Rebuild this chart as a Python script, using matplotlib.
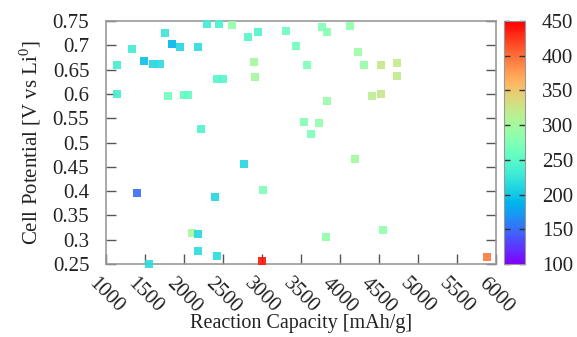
import matplotlib
matplotlib.use("Agg")
import matplotlib.pyplot as plt
import numpy as np
from matplotlib.ticker import FormatStrFormatter

plt.rcParams['font.family'] = ['Liberation Serif', 'DejaVu Serif']
plt.rcParams['mathtext.fontset'] = 'custom'
plt.rcParams['mathtext.rm'] = 'Liberation Serif'

# reaction capacity [mAh/g]
capacity = [1141, 1141, 1333, 1487, 1603, 1692, 1756, 1846, 1949, 2179,
            1795, 2000, 2051, 2423, 2500, 2218, 2295, 2449, 2615, 2821,
            2949, 2897, 2910, 3308, 3436, 3769, 3833, 4128, 4231, 3577,
            4308, 4526, 4731, 4731, 4410, 4526, 3833, 3538, 3731, 3628,
            1397, 1551, 2769, 3013, 2397, 2103, 2179, 2179, 2423, 3000,
            4192, 4551, 3821, 5885]
# cell potential [V vs Li0]
potential = [0.659, 0.600, 0.692, 0.668, 0.662, 0.662, 0.725, 0.703, 0.696, 0.696,
             0.596, 0.598, 0.598, 0.631, 0.631, 0.528, 0.744, 0.744, 0.742, 0.717,
             0.727, 0.666, 0.635, 0.729, 0.699, 0.738, 0.727, 0.740, 0.686, 0.659,
             0.659, 0.659, 0.664, 0.637, 0.596, 0.600, 0.585, 0.542, 0.540, 0.517,
             0.396, 0.250, 0.456, 0.402, 0.388, 0.314, 0.312, 0.277, 0.266, 0.256,
             0.466, 0.320, 0.306, 0.264]
# colour value
value = [235, 235, 232, 195, 210, 215, 225, 188, 210, 218,
         265, 255, 255, 245, 245, 240, 230, 238, 285, 245,
         240, 300, 300, 262, 265, 275, 278, 285, 295, 270,
         290, 325, 320, 318, 315, 325, 292, 275, 285, 272,
         150, 215, 212, 270, 212, 305, 212, 215, 215, 440,
         298, 285, 285, 395]

xticks = np.arange(1000, 6001, 500)
yticks = np.arange(0.25, 0.751, 0.05)
cticks = np.arange(100, 451, 50)

fig = plt.figure(figsize=(5.77, 3.37), dpi=100)
ax = fig.add_axes([0.1837, 0.2166, 0.6759, 0.721])
cax = fig.add_axes([0.8735, 0.2166, 0.0364, 0.721])

sc = ax.scatter(capacity, potential, c=value, cmap='rainbow', vmin=100, vmax=450,
                marker='s', s=34, linewidths=0, alpha=0.9, clip_on=False, zorder=3)

ax.set_xlim(1000, 6000)
ax.set_ylim(0.25, 0.75)
ax.set_xticks(xticks)
ax.set_yticks(yticks)
ax.yaxis.set_major_formatter(FormatStrFormatter('%g'))
ax.set_xticklabels([str(t) for t in xticks], rotation=-45, ha='center', va='top')
ax.tick_params(direction='in', length=7, width=1, color='#555555', labelsize=15,
               labelcolor='#222222', right=True, top=False)
ax.tick_params(axis='y', pad=12)
ax.tick_params(axis='x', pad=7)
for s in ax.spines.values():
    s.set_color('#999999')
    s.set_linewidth(1.2)

ax.set_xlabel('Reaction Capacity [mAh/g]', fontsize=14.5, color='#222222', labelpad=-2)
ax.set_ylabel('Cell Potential [V vs Li$^0$]', fontsize=15, color='#222222', labelpad=7)

cb = fig.colorbar(sc, cax=cax)
cb.solids.set_alpha(1)
cb.set_ticks(cticks)
cax.tick_params(direction='in', length=4, width=1, color='#333333', left=True,
                right=True, labelsize=15, labelcolor='#222222', pad=12)
cb.outline.set_edgecolor('#999999')

fig.savefig('out.png', dpi=100)
